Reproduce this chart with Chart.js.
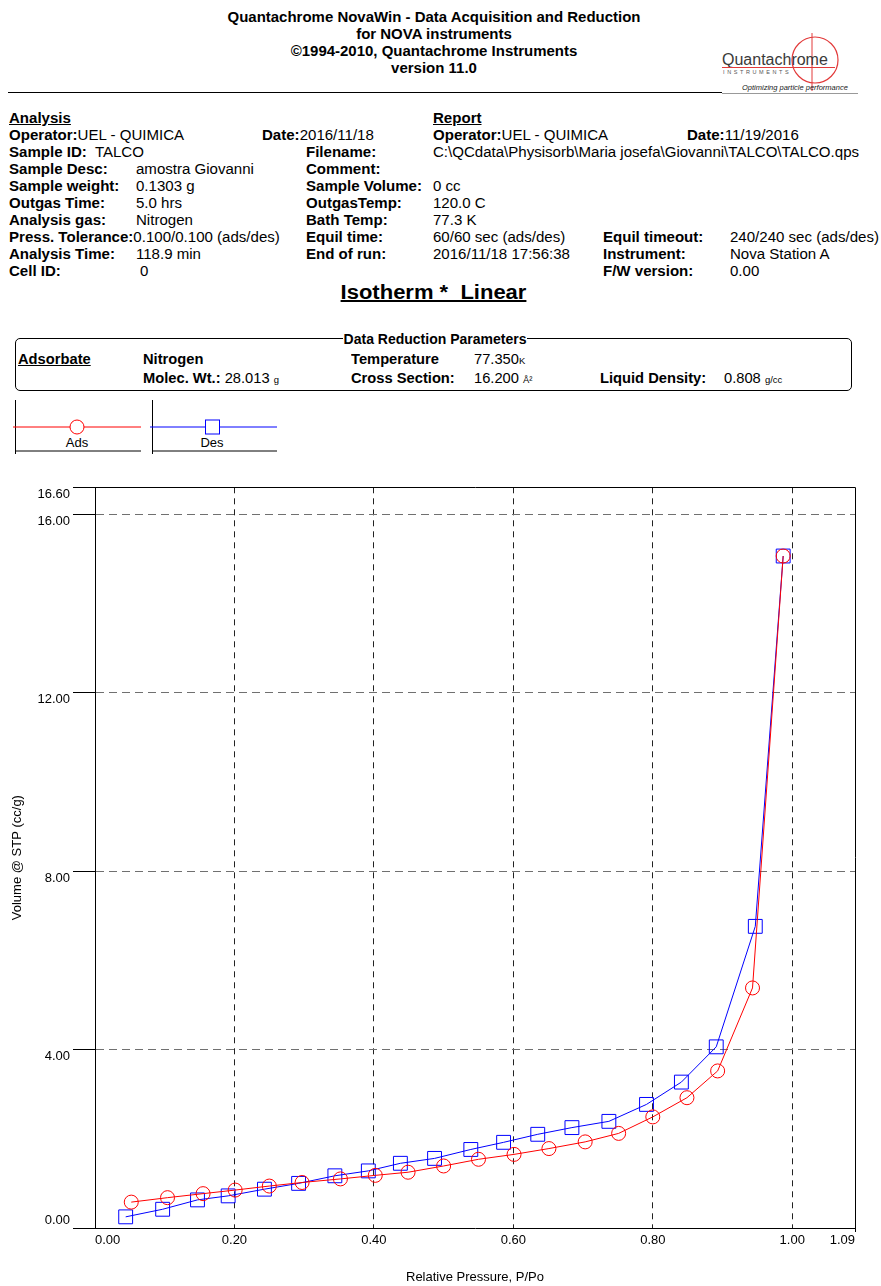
<!DOCTYPE html>
<html>
<head>
<meta charset="utf-8">
<script src="https://cdn.jsdelivr.net/npm/chart.js@4.4.1/dist/chart.umd.min.js"></script>
<style>
  body { margin: 0; background: #fff; color: #000; font-family: "Liberation Sans", Arial, sans-serif; }
  #page { position: relative; width: 881px; height: 1286px; overflow: hidden; background: #fff; }
  .t { position: absolute; white-space: nowrap; font-size: 14px; line-height: 16px; transform-origin: 0 50%; transform: scaleX(1.075); }
  .c { position: absolute; white-space: nowrap; font-weight: bold; font-size: 14px; line-height: 17px; left: 0; width: 868px; text-align: center; transform: scaleX(1.07); }
  .b { position: absolute; white-space: nowrap; font-size: 14px; line-height: 16px; transform-origin: 0 50%; transform: scaleX(1.05); }
  .u { font-size: 9px; }
  #chart { position: absolute; left: 0; top: 470px; }
</style>
</head>
<body>
<div id="page">

  <!-- header -->
  <div class="c" style="top:9px">Quantachrome NovaWin - Data Acquisition and Reduction</div>
  <div class="c" style="top:26px">for NOVA instruments</div>
  <div class="c" style="top:43px">©1994-2010, Quantachrome Instruments</div>
  <div class="c" style="top:60px">version 11.0</div>

  <svg style="position:absolute;left:700px;top:25px" width="170" height="75">
    <circle cx="115" cy="35" r="23" fill="none" stroke="#e23a3a" stroke-width="1.2"/>
    <line x1="112" y1="8" x2="112" y2="66" stroke="#e23a3a" stroke-width="1"/>
    <text x="22" y="39.5" font-family="Liberation Sans, Arial" font-size="16" fill="#3a3a3a">Quantachrome</text>
    <line x1="22" y1="42.5" x2="135" y2="42.5" stroke="#e23a3a" stroke-width="1"/>
    <text x="23" y="48.5" font-family="Liberation Sans, Arial" font-size="5.5" letter-spacing="2.6" fill="#555">INSTRUMENTS</text>
    <text x="42" y="65" font-family="Liberation Sans, Arial" font-size="7.5" font-style="italic" fill="#222">Optimizing particle performance</text>
    <line x1="22" y1="68.5" x2="158" y2="68.5" stroke="#999" stroke-width="1"/>
  </svg>
  <div style="position:absolute;left:8px;top:91.5px;width:714px;height:1.6px;background:#000"></div>

  <!-- analysis / report table -->
  <div class="t" style="left:9px;top:110px"><b><u>Analysis</u></b></div>
  <div class="t" style="left:433px;top:110px"><b><u>Report</u></b></div>

  <div class="t" style="left:9px;top:127px"><b>Operator:</b>UEL - QUIMICA</div>
  <div class="t" style="left:262px;top:127px"><b>Date:</b>2016/11/18</div>
  <div class="t" style="left:433px;top:127px"><b>Operator:</b>UEL - QUIMICA</div>
  <div class="t" style="left:687px;top:127px"><b>Date:</b>11/19/2016</div>

  <div class="t" style="left:9px;top:144px"><b>Sample ID:</b>&nbsp; TALCO</div>
  <div class="t" style="left:306px;top:144px"><b>Filename:</b></div>
  <div class="t" style="left:433px;top:144px">C:\QCdata\Physisorb\Maria josefa\Giovanni\TALCO\TALCO.qps</div>

  <div class="t" style="left:9px;top:161px"><b>Sample Desc:</b></div>
  <div class="t" style="left:136px;top:161px">amostra Giovanni</div>
  <div class="t" style="left:306px;top:161px"><b>Comment:</b></div>

  <div class="t" style="left:9px;top:178px"><b>Sample weight:</b></div>
  <div class="t" style="left:136px;top:178px">0.1303 g</div>
  <div class="t" style="left:306px;top:178px"><b>Sample Volume:</b></div>
  <div class="t" style="left:433px;top:178px">0 cc</div>

  <div class="t" style="left:9px;top:195px"><b>Outgas Time:</b></div>
  <div class="t" style="left:136px;top:195px">5.0 hrs</div>
  <div class="t" style="left:306px;top:195px"><b>OutgasTemp:</b></div>
  <div class="t" style="left:433px;top:195px">120.0 C</div>

  <div class="t" style="left:9px;top:212px"><b>Analysis gas:</b></div>
  <div class="t" style="left:136px;top:212px">Nitrogen</div>
  <div class="t" style="left:306px;top:212px"><b>Bath Temp:</b></div>
  <div class="t" style="left:433px;top:212px">77.3 K</div>

  <div class="t" style="left:9px;top:229px"><b>Press. Tolerance:</b>0.100/0.100 (ads/des)</div>
  <div class="t" style="left:306px;top:229px"><b>Equil time:</b></div>
  <div class="t" style="left:433px;top:229px">60/60 sec (ads/des)</div>
  <div class="t" style="left:603px;top:229px"><b>Equil timeout:</b></div>
  <div class="t" style="left:730px;top:229px">240/240 sec (ads/des)</div>

  <div class="t" style="left:9px;top:246px"><b>Analysis Time:</b></div>
  <div class="t" style="left:136px;top:246px">118.9 min</div>
  <div class="t" style="left:306px;top:246px"><b>End of run:</b></div>
  <div class="t" style="left:433px;top:246px">2016/11/18 17:56:38</div>
  <div class="t" style="left:603px;top:246px"><b>Instrument:</b></div>
  <div class="t" style="left:730px;top:246px">Nova Station A</div>

  <div class="t" style="left:9px;top:263px"><b>Cell ID:</b></div>
  <div class="t" style="left:140px;top:263px">0</div>
  <div class="t" style="left:603px;top:263px"><b>F/W version:</b></div>
  <div class="t" style="left:730px;top:263px">0.00</div>

  <div style="position:absolute;left:0;width:867px;top:280px;text-align:center;font-weight:bold;font-size:20px;line-height:24px;text-decoration:underline;transform:scaleX(1.1);white-space:pre">Isotherm *  Linear</div>

  <!-- data reduction parameters -->
  <div style="position:absolute;left:15px;top:338px;width:835px;height:51px;border:1.5px solid #000;border-radius:5px"></div>
  <div style="position:absolute;left:0;width:870px;top:330px;text-align:center">
    <span style="background:#fff;font-weight:bold;font-size:14px;line-height:16px;padding:0 1px">Data Reduction Parameters</span>
  </div>
  <div class="b" style="left:18px;top:351px"><b><u>Adsorbate</u></b></div>
  <div class="b" style="left:143px;top:351px"><b>Nitrogen</b></div>
  <div class="b" style="left:143px;top:370px"><b>Molec. Wt.:</b> 28.013 <span class="u">g</span></div>
  <div class="b" style="left:351px;top:351px"><b>Temperature</b></div>
  <div class="b" style="left:474px;top:351px">77.350<span class="u">K</span></div>
  <div class="b" style="left:351px;top:370px"><b>Cross Section:</b></div>
  <div class="b" style="left:474px;top:370px">16.200 <span class="u">Å²</span></div>
  <div class="b" style="left:600px;top:370px"><b>Liquid Density:</b></div>
  <div class="b" style="left:724px;top:370px">0.808 <span class="u">g/cc</span></div>

  <!-- series keys -->
  <svg style="position:absolute;left:0;top:395px" width="300" height="65" font-family="Liberation Sans, Arial" font-size="13">
    <line x1="15.5" y1="5" x2="15.5" y2="59" stroke="#000"/>
    <line x1="13" y1="32" x2="141" y2="32" stroke="#ff0000"/>
    <circle cx="77" cy="32" r="7" fill="#fff" stroke="#ff0000"/>
    <text x="77" y="52" text-anchor="middle">Ads</text>
    <line x1="15.5" y1="56" x2="141" y2="56" stroke="#000"/>
    <line x1="152.5" y1="5" x2="152.5" y2="59" stroke="#000"/>
    <line x1="150" y1="32" x2="277" y2="32" stroke="#0000ff"/>
    <rect x="205.5" y="25" width="14" height="14" fill="#fff" stroke="#0000ff"/>
    <text x="212" y="52" text-anchor="middle">Des</text>
    <line x1="152.5" y1="56" x2="277" y2="56" stroke="#000"/>
  </svg>

  <canvas id="chart" width="881" height="816"></canvas>
</div>

<script>
// adsorption branch (P/Po, cc/g)
const adsP = [0.052, 0.104, 0.155, 0.201, 0.250, 0.297, 0.352, 0.402, 0.449, 0.500,
              0.550, 0.601, 0.651, 0.703, 0.751, 0.800, 0.849, 0.893, 0.943, 0.987];
const adsV = [0.58, 0.68, 0.77, 0.85, 0.94, 1.02, 1.10, 1.18, 1.25, 1.39,
              1.54, 1.65, 1.78, 1.93, 2.12, 2.49, 2.92, 3.52, 5.38, 15.06];

// desorption branch
const desP = [0.987, 0.947, 0.891, 0.841, 0.791, 0.737, 0.684, 0.635, 0.586, 0.539,
              0.487, 0.438, 0.392, 0.344, 0.292, 0.243, 0.191, 0.147, 0.097, 0.044];
const desV = [15.06, 6.76, 4.06, 3.27, 2.77, 2.39, 2.25, 2.10, 1.92, 1.76,
              1.56, 1.45, 1.28, 1.17, 1.00, 0.87, 0.72, 0.63, 0.42, 0.25];

const xTicks = [0, 0.2, 0.4, 0.6, 0.8, 1.0, 1.09];
const yTicks = [0, 4, 8, 12, 16, 16.6];

const FONT = "'Liberation Sans', Arial, sans-serif";
const xMax = xTicks[xTicks.length - 1];
const yMax = yTicks[yTicks.length - 1];

function pts(xs, ys) {
    return xs.map((x, i) => ({ x: x, y: ys[i] }));
}

const ctx = document.getElementById("chart").getContext("2d");
new Chart(ctx, {
    type: "scatter",
    data: {
        datasets: [
            {
                label: "Ads",
                data: pts(adsP, adsV),
                showLine: true,
                borderColor: "#ff0000",
                borderWidth: 1,
                pointStyle: "circle",
                pointRadius: 7,
                pointBorderColor: "#ff0000",
                pointBackgroundColor: "rgba(0,0,0,0)",
                pointBorderWidth: 1
            },
            {
                label: "Des",
                data: pts(desP, desV),
                showLine: true,
                borderColor: "#0000ff",
                borderWidth: 1,
                pointStyle: "rect",
                pointRadius: 9.8,
                pointBorderColor: "#0000ff",
                pointBackgroundColor: "rgba(0,0,0,0)",
                pointBorderWidth: 1
            }
        ]
    },
    options: {
        responsive: false,
        animation: false,
        layout: { padding: { top: 15, right: 26, left: 0, bottom: 0 } },
        plugins: { legend: { display: false }, tooltip: { enabled: false } },
        scales: {
            x: {
                type: "linear",
                min: 0,
                max: xMax,
                afterBuildTicks: (s) => { s.ticks = xTicks.map(v => ({ value: v })); },
                afterFit: (s) => { s.height = 58; },
                ticks: {
                    align: "inner",
                    autoSkip: false,
                    maxRotation: 0,
                    padding: 1,
                    color: "#000",
                    font: { family: FONT, size: 13 },
                    callback: (v) => Number(v).toFixed(2)
                },
                grid: {
                    color: (c) => c.tick.value === 0 ? "rgba(0,0,0,0)" : (c.tick.value === xMax ? "#000" : "#222"),
                    lineWidth: 1,
                    tickLength: 4,
                    tickColor: (c) => c.tick.value === xMax ? "#000" : "rgba(0,0,0,0)"
                },
                border: {
                    display: true,
                    color: "#000",
                    width: 1,
                    dash: (c) => c.tick && c.tick.value === xMax ? [] : [6, 5]
                },
                title: {
                    display: true,
                    text: "Relative Pressure, P/Po",
                    color: "#000",
                    font: { family: FONT, size: 13 },
                    padding: { top: 0, bottom: 1 }
                }
            },
            y: {
                type: "linear",
                min: 0,
                max: yMax,
                afterBuildTicks: (s) => { s.ticks = yTicks.map(v => ({ value: v })); },
                afterFit: (s) => { s.width = 95; },
                ticks: {
                    autoSkip: false,
                    padding: 3,
                    color: "#000",
                    font: { family: FONT, size: 13, lineHeight: 1.1 },
                    // labels sit under their line, except the bottom one
                    callback: (v) => v === 0 ? ["0.00", ""] : ["", Number(v).toFixed(2)]
                },
                grid: {
                    color: (c) => c.tick.value === 0 ? "rgba(0,0,0,0)" : (c.tick.value === yMax ? "#000" : "#707070"),
                    lineWidth: 1,
                    tickLength: 22,
                    tickColor: "#000"
                },
                border: {
                    display: true,
                    color: "#000",
                    width: 1,
                    dash: (c) => c.tick && c.tick.value === yMax ? [] : [8, 5]
                },
                title: {
                    display: true,
                    text: "Volume @ STP (cc/g)",
                    color: "#000",
                    font: { family: FONT, size: 13 },
                    padding: { top: 10, bottom: 0 }
                }
            }
        }
    }
});
</script>
</body>
</html>
